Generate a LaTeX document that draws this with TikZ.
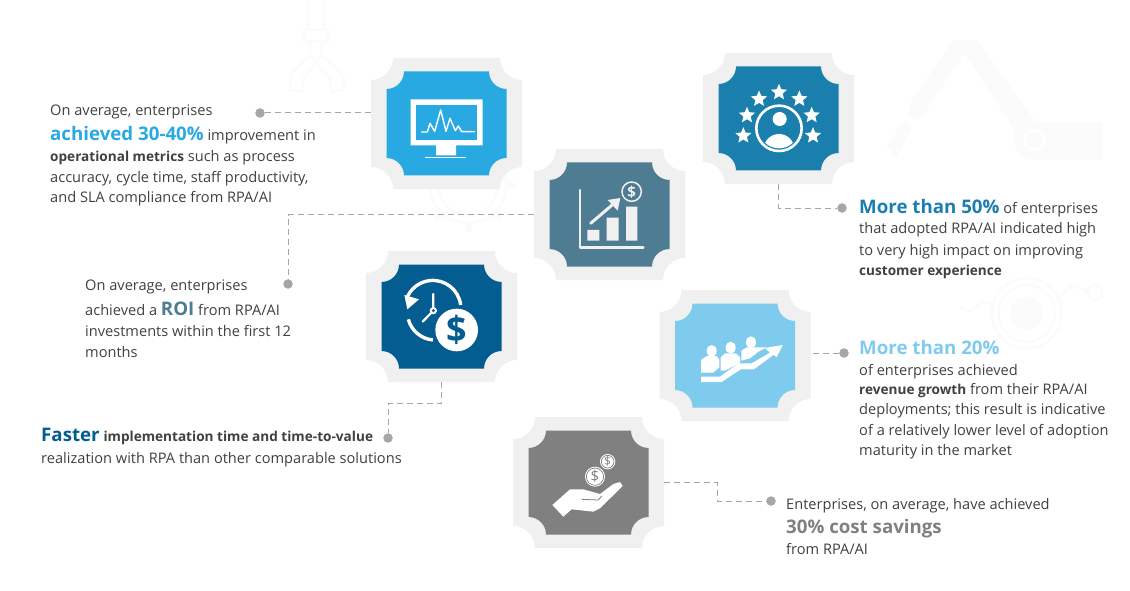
\documentclass[tikz,border=0pt]{standalone}
\usepackage{fontspec}
\setmainfont{Open Sans}
\usetikzlibrary{shapes.geometric}
\definecolor{bluea}{HTML}{29A9E1}
\definecolor{blueb}{HTML}{4E7D93}
\definecolor{bluec}{HTML}{1B7FAE}
\definecolor{blued}{HTML}{035D90}
\definecolor{bluee}{HTML}{7FCBEE}
\definecolor{greyf}{HTML}{808080}
\definecolor{badgegrey}{HTML}{F0F0F0}
\definecolor{inktext}{HTML}{404040}
\definecolor{ghost}{HTML}{FBFBFB}
\definecolor{dashgrey}{HTML}{A6A6A6}
\tikzset{
  badgebox/.style={minimum width=151pt, minimum height=131pt, inner sep=0pt},
  dot/.style={circle, fill=dashgrey, minimum size=9.5pt, inner sep=0pt},
  link/.style={dashgrey, line width=1pt, dash pattern=on 6pt off 4pt},
  txt/.style={anchor=north west, inner sep=0pt, align=left, text=inktext, font=\fontsize{14.6}{20.5}\selectfont},
  ghostline/.style={ghost, line width=2.5pt, line cap=round, line join=round},
}
\newcommand{\lead}[1]{{\fontsize{18.7}{21}\selectfont\bfseries #1}}
\newcommand{\keyword}[1]{{\fontsize{13.6}{20}\selectfont\bfseries #1}}
% notched plate: half width, half height, notch radius
\newcommand{\plate}[3]{(-#1+#3,-#2) -- (#1-#3,-#2) arc(180:90:#3) -- (#1,#2-#3) arc(270:180:#3)
  -- (-#1+#3,#2) arc(0:-90:#3) -- (-#1,-#2+#3) arc(90:0:#3) -- cycle}
\newcommand{\badge}[4]{
  \node[badgebox] (#1) at (#2,#3) {};
  \fill[badgegrey,shift={(#2,#3)}] \plate{75.5}{65.5}{22};
  \fill[#4,shift={(#2,#3)}] \plate{60}{52}{17.5};
}
\begin{document}
\begin{tikzpicture}[x=1pt,y=-1pt]
\useasboundingbox (0,0) rectangle (1130,591);

% faint robot parts behind everything
\begin{scope}[shift={(270,0)},scale=1/3]
\draw[ghostline] (115,0)--(115,90) (160,0)--(160,90);
\draw[ghostline] (100,90) rectangle (175,125);
\draw[ghostline] (120,125)--(120,165)--(137,185)--(155,165)--(155,125);
\draw[ghostline] (120,165)--(60,225)--(60,270)--(95,275)--(100,235)--(137,185);
\draw[ghostline] (155,165)--(220,225)--(220,270)--(185,275)--(178,235)--(137,185);
\end{scope}
\begin{scope}[shift={(690,40)},scale=1/3]
\fill[ghost] (790,0)--(660,190)--(650,230)--(690,240)--(830,30)--cycle;
\fill[ghost] (800,0)--(860,0)--(1040,250)--(985,290)--cycle;
\fill[ghost] (1030,245)--(1238,245)--(1238,360)--(1030,360) arc(90:270:57.5)--cycle;
\fill[ghost] (640,240)--(590,320)--(620,350)--(665,260)--cycle;
\draw[ghostline,white] (1033,300) circle (30);
\end{scope}
\begin{scope}[shift={(960,250)},scale=1/3]
\fill[ghost] (200,190) circle (50);
\draw[ghostline] (200,190) circle (85) (200,190) circle (105);
\draw[ghostline] (0,170)--(30,185)--(65,155)--(105,165);
\draw[ghostline] (300,140)--(335,105)--(385,125);
\draw[ghostline] (405,128) circle (22);
\end{scope}
\draw[ghostline] (468,185) circle (30) (468,185) circle (38);
\foreach \a in {0,45,...,315}
  \draw[ghost,line width=7pt] (468,185)++(\a:38)--++(\a:9);

% the six plates
\badge{monitor}{446.5}{123.5}{bluea}
\badge{chart}{609.5}{214.5}{blueb}
\badge{stars}{778.5}{118.5}{bluec}
\badge{clock}{441.5}{316.5}{blued}
\badge{team}{735}{355.5}{bluee}
\badge{hand}{588.5}{482.5}{greyf}

% monitor
\begin{scope}[shift={(350,40)},scale=1/3]
\fill[white] (182,178) rectangle (398,316) (258,316) rectangle (318,346);
\fill[bluea] (198,194) rectangle (382,300);
\fill[white] (226,351) rectangle (348,354);
\draw[white,line width=1.4pt,line join=round,line cap=round] (215,276)--(232,276)--(240,250)--(254,274)--(272,210)--(288,274)--(300,235)--(316,272)--(325,258)--(335,275)--(373,275);
\end{scope}

% chart
\begin{scope}[shift={(350,40)},scale=1/3]
\draw[badgegrey,line width=2.6pt,line cap=round,line join=round] (690,450)--(690,622)--(880,622);
\fill[badgegrey] (712,570) rectangle (748,602) (770,533) rectangle (806,602) (828,500) rectangle (862,602);
\draw[badgegrey,line width=3pt,line cap=round] (722,550)--(790,492);
\fill[badgegrey] (811,474)--(773,480)--(803,512)--cycle;
\draw[badgegrey,line width=1.5pt] (845,455) circle (29);
\node[text=badgegrey,font=\fontsize{15}{15}\selectfont\bfseries,inner sep=0pt] (chartcoin) at (845,456) {\$};
\end{scope}

% stars
\begin{scope}[shift={(690,40)},scale=1/3]
\foreach \x/\y [count=\i] in {160/287,171/226,207/177,267/157,328/177,365/226,369/287}
  \node[star,star points=5,star point ratio=2.2,fill=white,minimum size=17pt,inner sep=0pt] (star\i) at (\x,\y) {};
\draw[white,line width=2.6pt] (267,265) circle (68);
\fill[white] (269,237) circle (21);
\begin{scope}
\clip (267,265) circle (60);
\fill[white] (267,328) ellipse (46 and 46);
\end{scope}
\end{scope}

% clock
\begin{scope}[shift={(350,240)},scale=1/3]
\draw[white,line width=3.4pt] (332,195) arc(-7:-160:84);
\fill[white] (163,165)--(172,208)--(207,178)--cycle;
\draw[white,line width=3.4pt] (175,238) arc(165:95:84);
\draw[white,line width=2.2pt,line cap=round] (250,162)--(250,212) (250,212)--(218,245);
\fill[white] (250,212) circle (11);
\fill[blued] (250,212) circle (5);
\fill[blued] (320,270) circle (70);
\fill[white] (320,270) circle (64);
\node[text=blued,font=\fontsize{36}{36}\selectfont\bfseries,inner sep=0pt] (clockcoin) at (320,270) {\$};
\end{scope}

% team
\begin{scope}[shift={(650,280)},scale=1/3]
\foreach \x/\y in {185/213,242/203,303/187}
  \fill[white] (\x,\y) ellipse (15 and 18);
\fill[white] (153,240)--(170,228)--(200,228)--(208,240)--(208,262)--(190,278)--(153,278)--cycle;
\fill[white] (212,232)--(225,220)--(258,220)--(270,232)--(270,248)--(225,272)--(212,272)--cycle;
\fill[white] (274,212)--(290,202)--(325,202)--(350,202)--(325,215)--(300,235)--(274,242)--cycle;
\fill[white] (153,290)--(210,290)--(265,250)--(305,250)--(360,218)--(345,204)--(398,195)--(380,232)--(371,224)--(312,268)--(272,268)--(215,306)--(153,306)--cycle;
\end{scope}

% hand
\begin{scope}[shift={(500,410)},scale=1/3]
\foreach \x/\y/\r/\s [count=\i] in {285/200/30/15,323/155/23/12}
{
  \fill[white] (\x,\y) circle (\r);
  \draw[greyf,line width=.7pt] (\x,\y) circle (\r-4);
  \node[text=greyf,font=\fontsize{\s}{\s}\selectfont,inner sep=0pt] (coin\i) at (\x,\y) {\$};
}
\fill[white,line join=round] (157,285)--(210,238)--(250,238)--(300,252)--(340,222)--(360,216)--(368,228)--(300,295)--(280,305)--(215,298)--(190,320)--cycle;
\draw[greyf,line width=.8pt] (245,268)--(295,270)--(305,258);
\end{scope}

% dots and links
\node[dot] (dota) at (260,113) {};
\node[dot] (dotb) at (288,284) {};
\node[dot] (dotc) at (842,208) {};
\node[dot] (dotd) at (388,438) {};
\node[dot] (dote) at (844,353) {};
\node[dot] (dotf) at (771,501) {};
\draw[link] (dota)--(dota -| monitor.west);
\draw[link] (chart.west)-|(dotb);
\draw[link] (stars.south)|-(dotc);
\draw[link] (clock.south)--++(0,21)-|(dotd);
\draw[link] (dote)--(dote -| team.east);
\draw[link] (hand.east)--++(53,0)|-(dotf);

% the texts
\node[txt] (texta) at (50,105) {On average, enterprises\\[4pt]\lead{\textcolor{bluea}{achieved 30-40\%}} improvement in\\[1pt]\keyword{operational metrics} such as process\\[0pt]accuracy, cycle time, staff productivity,\\[0pt]and SLA compliance from RPA/AI};
\node[txt] (textb) at (85,280) {On average, enterprises\\[4pt]achieved a \lead{\textcolor{blueb}{ROI}} from RPA/AI\\[1pt]investments within the first 12\\months};
\node[txt] (textd) at (41,428) {\lead{\textcolor{blued}{Faster}} \keyword{implementation time and time-to-value}\\[1pt]realization with RPA than other comparable solutions};
\node[txt] (textc) at (859,199) {\lead{\textcolor{bluec}{More than 50\%}} of enterprises\\that adopted RPA/AI indicated high\\[1pt]to very high impact on improving\\\keyword{customer experience}};
\node[txt] (texte) at (859,340) {\lead{\textcolor{bluee}{More than 20\%}}\\[1pt]of enterprises achieved\\[-2pt]\keyword{revenue growth} from their RPA/AI\\deployments; this result is indicative\\of a relatively lower level of adoption\\maturity in the market};
\node[txt] (textf) at (786,498) {Enterprises, on average, have achieved\\[4pt]\lead{\textcolor{greyf}{30\% cost savings}}\\from RPA/AI};
\end{tikzpicture}
\end{document}
